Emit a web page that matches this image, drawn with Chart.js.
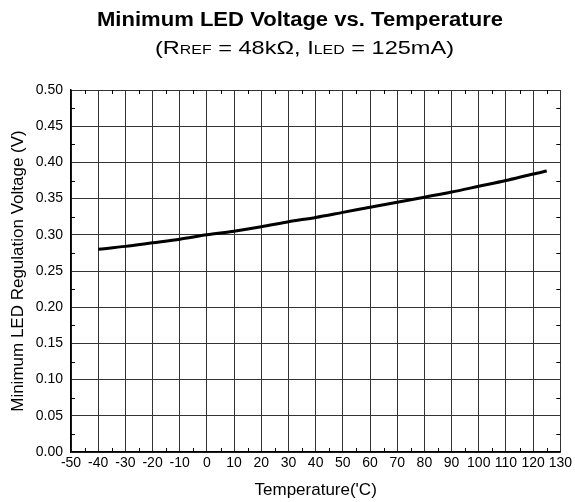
<!DOCTYPE html>
<html>
<head>
<meta charset="utf-8">
<script src="https://cdn.jsdelivr.net/npm/chart.js@4"></script>
<style>
  html, body { margin: 0; padding: 0; background: #fff; }
  #wrap { position: relative; width: 575px; height: 502px; font-family: "Liberation Sans", Arial, sans-serif; }
  canvas { position: absolute; top: 0; left: 0; }
  .hd { position: absolute; white-space: nowrap; line-height: 1; color: #000; transform-origin: 0 0; }
  #title { top: 10px; font-weight: bold; font-size: 19.5px; }
  #sub { top: 39px; font-size: 18.5px; }
  #sub small { font-size: 12.5px; }
</style>
</head>
<body>
<div id="wrap">
  <canvas id="c" width="575" height="502"></canvas>
  <div id="title" class="hd">Minimum LED Voltage vs. Temperature</div>
  <div id="sub" class="hd">(R<small>REF</small> = 48kΩ, I<small>LED</small> = 125mA)</div>
</div>
<script>
/* 資料 */
const temps = [-40, -30, -20, -10, 0, 10, 20, 30, 40, 50, 60, 70, 80, 90, 100, 110, 120, 125];
const volts = [0.280, 0.284, 0.289, 0.294, 0.300, 0.305, 0.311, 0.318, 0.324, 0.331, 0.338, 0.345, 0.352, 0.359, 0.367, 0.375, 0.384, 0.388];
const xTicks = [-50, -40, -30, -20, -10, 0, 10, 20, 30, 40, 50, 60, 70, 80, 90, 100, 110, 120, 130];
const yTicks = [0.00, 0.05, 0.10, 0.15, 0.20, 0.25, 0.30, 0.35, 0.40, 0.45, 0.50];

/* 標題：原圖字形較寬，按原圖寬度拉伸 */
const fit = (id, left, width) => {
  const el = document.getElementById(id);
  el.style.left = left + 'px';
  el.style.transform = `scaleX(${width / el.getBoundingClientRect().width})`;
};
fit('title', 97, 406);
fit('sub', 155, 299);

const FONT = '"Liberation Sans", Arial, sans-serif';
Chart.defaults.font.family = FONT;
Chart.defaults.color = '#000';

/* 小刻度：畫在座標軸內側 */
const minorTicks = {
  id: 'minorTicks',
  afterDatasetsDraw(chart) {
    const { ctx, chartArea: a, scales: { x, y } } = chart;
    ctx.save();
    ctx.strokeStyle = '#000';
    ctx.lineWidth = 1;
    ctx.beginPath();
    for (let i = 0; i < xTicks.length - 1; i++) {
      const px = Math.round(x.getPixelForValue((xTicks[i] + xTicks[i + 1]) / 2)) + 0.5;
      ctx.moveTo(px, a.bottom); ctx.lineTo(px, a.bottom - 4);
      ctx.moveTo(px, a.top); ctx.lineTo(px, a.top + 4);
    }
    for (let i = 0; i < yTicks.length - 1; i++) {
      const py = Math.round(y.getPixelForValue((yTicks[i] + yTicks[i + 1]) / 2)) + 0.5;
      ctx.moveTo(a.left, py); ctx.lineTo(a.left + 4, py);
      ctx.moveTo(a.right, py); ctx.lineTo(a.right - 4, py);
    }
    ctx.stroke();
    ctx.restore();
  }
};

new Chart(document.getElementById('c'), {
  type: 'line',
  data: {
    datasets: [{
      data: temps.map((t, i) => ({ x: t, y: volts[i] })),
      borderColor: '#000',
      borderWidth: 3,
      pointRadius: 0,
      tension: 0.3,
      fill: false
    }]
  },
  options: {
    responsive: false,
    animation: false,
    layout: { padding: { top: 90, right: 14, left: 0, bottom: 0 } },
    plugins: { legend: { display: false }, tooltip: { enabled: false } },
    scales: {
      x: {
        type: 'linear',
        min: -50, max: 130,
        afterBuildTicks: s => { s.ticks = xTicks.map(v => ({ value: v })); },
        afterFit: s => { s.height = 50; },
        ticks: { font: { size: 14 }, padding: 3, maxRotation: 0, autoSkip: false },
        grid: { color: '#333', lineWidth: 1, drawTicks: false },
        border: { color: '#000', width: 1.5 },
        title: { display: true, text: "Temperature('C)", font: { size: 17 }, padding: { top: 0, bottom: 1 } }
      },
      y: {
        min: 0, max: 0.5,
        afterBuildTicks: s => { s.ticks = yTicks.map(v => ({ value: v })); },
        afterFit: s => { s.width = 71; },
        ticks: { font: { size: 14 }, padding: 8, callback: v => v.toFixed(2) },
        grid: { color: '#333', lineWidth: 1, drawTicks: false },
        border: { color: '#000', width: 1.5 },
        title: { display: true, text: 'Minimum LED Regulation Voltage (V)', font: { size: 17 }, padding: { top: 8, bottom: 0 } }
      }
    }
  },
  plugins: [minorTicks]
});
</script>
</body>
</html>
